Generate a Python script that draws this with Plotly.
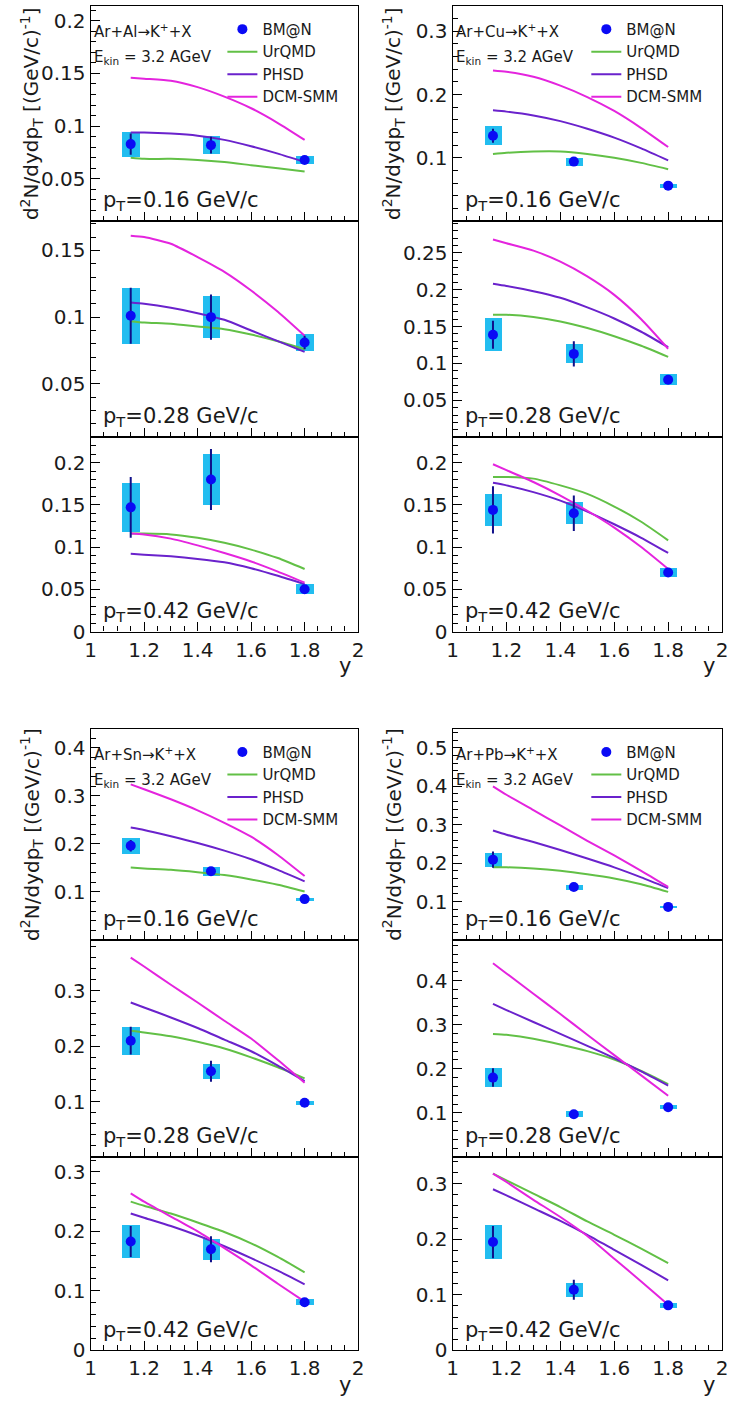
import plotly.graph_objects as go

W, H = 731, 1405

# rapidity bins of the BM@N points and the grid of the model curves
rapidity = [1.15, 1.45, 1.8]
model_y = [1.15, 1.2, 1.3, 1.4, 1.5, 1.6, 1.7, 1.8]
pt_labels = ["0.16", "0.28", "0.42"]
systems = ["Al", "Cu", "Sn", "Pb"]

# --- Ar+Al ---------------------------------------------------------------
al_bmn = [[0.083, 0.082, 0.068], [0.101, 0.100, 0.081], [0.147, 0.180, 0.050]]
al_stat = [[0.010, 0.008, 0.003], [0.021, 0.017, 0.005], [0.036, 0.036, 0.004]]
al_syst = [[0.012, 0.0085, 0.004], [0.021, 0.016, 0.0065], [0.029, 0.030, 0.006]]
al_urqmd = [[0.070, 0.069, 0.069, 0.068, 0.066, 0.063, 0.060, 0.057],
            [0.097, 0.096, 0.095, 0.093, 0.091, 0.087, 0.082, 0.076],
            [0.116, 0.116, 0.115, 0.111, 0.105, 0.097, 0.087, 0.074]]
al_phsd = [[0.094, 0.094, 0.093, 0.091, 0.087, 0.081, 0.074, 0.066],
           [0.111, 0.110, 0.107, 0.103, 0.098, 0.090, 0.082, 0.074],
           [0.092, 0.091, 0.089, 0.086, 0.082, 0.075, 0.066, 0.056]]
al_dcm = [[0.146, 0.145, 0.143, 0.137, 0.128, 0.117, 0.103, 0.087],
          [0.161, 0.160, 0.155, 0.145, 0.134, 0.120, 0.104, 0.086],
          [0.116, 0.115, 0.110, 0.102, 0.093, 0.083, 0.071, 0.058]]

# --- Ar+Cu ---------------------------------------------------------------
cu_bmn = [[0.135, 0.094, 0.056], [0.139, 0.113, 0.078], [0.144, 0.140, 0.070]]
cu_stat = [[0.011, 0.004, 0.003], [0.019, 0.017, 0.004], [0.028, 0.021, 0.004]]
cu_syst = [[0.015, 0.0065, 0.003], [0.022, 0.013, 0.007], [0.019, 0.0135, 0.0055]]
cu_urqmd = [[0.106, 0.108, 0.110, 0.110, 0.106, 0.100, 0.092, 0.082],
            [0.166, 0.166, 0.163, 0.157, 0.148, 0.137, 0.124, 0.109],
            [0.183, 0.183, 0.181, 0.173, 0.163, 0.148, 0.130, 0.108]]
cu_phsd = [[0.175, 0.173, 0.167, 0.158, 0.146, 0.132, 0.115, 0.096],
           [0.208, 0.205, 0.198, 0.189, 0.176, 0.161, 0.143, 0.122],
           [0.176, 0.173, 0.165, 0.155, 0.142, 0.127, 0.111, 0.093]]
cu_dcm = [[0.238, 0.236, 0.228, 0.214, 0.196, 0.174, 0.147, 0.117],
          [0.268, 0.263, 0.253, 0.238, 0.218, 0.193, 0.160, 0.120],
          [0.198, 0.191, 0.177, 0.161, 0.143, 0.123, 0.100, 0.074]]

# --- Ar+Sn ---------------------------------------------------------------
sn_bmn = [[0.196, 0.143, 0.085], [0.210, 0.155, 0.098], [0.183, 0.170, 0.081]]
sn_stat = [[0.012, 0.005, 0.004], [0.025, 0.019, 0.004], [0.026, 0.022, 0.004]]
sn_syst = [[0.017, 0.010, 0.003], [0.025, 0.014, 0.004], [0.027, 0.018, 0.005]]
sn_urqmd = [[0.151, 0.149, 0.146, 0.141, 0.135, 0.126, 0.115, 0.101],
            [0.228, 0.225, 0.218, 0.208, 0.196, 0.180, 0.162, 0.142],
            [0.250, 0.243, 0.230, 0.215, 0.199, 0.180, 0.157, 0.131]]
sn_phsd = [[0.234, 0.229, 0.216, 0.202, 0.186, 0.168, 0.146, 0.122],
           [0.279, 0.270, 0.252, 0.233, 0.212, 0.191, 0.165, 0.137],
           [0.230, 0.223, 0.209, 0.193, 0.175, 0.155, 0.134, 0.111]]
sn_dcm = [[0.324, 0.314, 0.293, 0.270, 0.244, 0.215, 0.177, 0.133],
          [0.360, 0.344, 0.311, 0.279, 0.246, 0.214, 0.175, 0.134],
          [0.264, 0.250, 0.225, 0.200, 0.172, 0.143, 0.112, 0.082]]

# --- Ar+Pb ---------------------------------------------------------------
pb_bmn = [[0.209, 0.138, 0.086], [0.180, 0.097, 0.113], [0.195, 0.109, 0.081]]
pb_stat = [[0.021, 0.004, 0.004], [0.021, 0.008, 0.005], [0.029, 0.018, 0.004]]
pb_syst = [[0.018, 0.007, 0.003], [0.021, 0.007, 0.005], [0.031, 0.013, 0.005]]
pb_urqmd = [[0.189, 0.189, 0.186, 0.180, 0.171, 0.160, 0.145, 0.125],
            [0.279, 0.277, 0.268, 0.255, 0.240, 0.221, 0.195, 0.165],
            [0.318, 0.306, 0.282, 0.258, 0.232, 0.208, 0.183, 0.157]]
pb_phsd = [[0.285, 0.274, 0.255, 0.234, 0.212, 0.189, 0.163, 0.135],
           [0.347, 0.333, 0.306, 0.279, 0.252, 0.224, 0.194, 0.162],
           [0.290, 0.279, 0.256, 0.233, 0.208, 0.181, 0.154, 0.126]]
pb_dcm = [[0.400, 0.378, 0.338, 0.298, 0.258, 0.220, 0.180, 0.138],
          [0.439, 0.416, 0.370, 0.324, 0.277, 0.231, 0.185, 0.139],
          [0.318, 0.303, 0.271, 0.240, 0.206, 0.165, 0.124, 0.082]]

# y-axis ranges and tick labels of every pad
al_yrange = [[0.01, 0.214], [0.01, 0.172], [0.0, 0.23]]
cu_yrange = [[0.0, 0.34], [0.0, 0.293], [0.0, 0.23]]
sn_yrange = [[0.0, 0.44], [0.0, 0.392], [0.0, 0.325]]
pb_yrange = [[0.0, 0.55], [0.0, 0.492], [0.0, 0.348]]
al_yticks = [[0.05, 0.1, 0.15, 0.2], [0.05, 0.1, 0.15], [0, 0.05, 0.1, 0.15, 0.2]]
cu_yticks = [[0.1, 0.2, 0.3], [0.05, 0.1, 0.15, 0.2, 0.25], [0, 0.05, 0.1, 0.15, 0.2]]
sn_yticks = [[0.1, 0.2, 0.3, 0.4], [0.1, 0.2, 0.3], [0, 0.1, 0.2, 0.3]]
pb_yticks = [[0.1, 0.2, 0.3, 0.4, 0.5], [0.1, 0.2, 0.3, 0.4], [0, 0.1, 0.2, 0.3]]
x_ticks = [1, 1.2, 1.4, 1.6, 1.8, 2]

data = {
    "Al": (al_bmn, al_stat, al_syst, al_urqmd, al_phsd, al_dcm, al_yrange, al_yticks),
    "Cu": (cu_bmn, cu_stat, cu_syst, cu_urqmd, cu_phsd, cu_dcm, cu_yrange, cu_yticks),
    "Sn": (sn_bmn, sn_stat, sn_syst, sn_urqmd, sn_phsd, sn_dcm, sn_yrange, sn_yticks),
    "Pb": (pb_bmn, pb_stat, pb_syst, pb_urqmd, pb_phsd, pb_dcm, pb_yrange, pb_yticks),
}

FONT = "DejaVu Sans"
TXT = "#1a1a1a"
C_BOX = "#22bdf0"
C_PT = "#0a0af5"
C_ERR = "#10108a"
C_URQMD = "#62c046"
C_PHSD = "#6a22cc"
C_DCM = "#e424de"

# pad geometry in pixels
col_px = [(86, 358), (454, 728)]
row_px = [[(6, 223), (223, 441), (441, 637)],
          [(735, 948), (948, 1167), (1167, 1362)]]


def fx(px):
    return px / W


def fy(py):
    return 1 - py / H


fig = go.Figure()
layout = {}
annotations = []

for g, sysname in enumerate(systems):
    bmn, stat, syst, urq, phsd, dcm, yr, yt = data[sysname]
    col = g % 2
    grp = g // 2
    x0, x1 = col_px[col]
    legend_id = "legend" if g == 0 else f"legend{g + 1}"
    for k in range(3):
        n = g * 3 + k + 1
        xa = "x" if n == 1 else f"x{n}"
        ya = "y" if n == 1 else f"y{n}"
        top, bot = row_px[grp][k]
        first = k == 0

        # systematic boxes
        fig.add_trace(go.Bar(
            x=rapidity, y=[2 * s for s in syst[k]],
            base=[v - s for v, s in zip(bmn[k], syst[k])],
            width=0.065, marker=dict(color=C_BOX, line=dict(width=0)),
            xaxis=xa, yaxis=ya, showlegend=False, hoverinfo="skip"))
        # model curves
        for name, vals, color, rank in [("UrQMD", urq[k], C_URQMD, 2),
                                        ("PHSD", phsd[k], C_PHSD, 3),
                                        ("DCM-SMM", dcm[k], C_DCM, 4)]:
            fig.add_trace(go.Scatter(
                x=model_y, y=vals, mode="lines", name=name,
                line=dict(color=color, width=2, shape="spline", smoothing=0.6),
                xaxis=xa, yaxis=ya, legend=legend_id, legendrank=rank,
                showlegend=first))
        # BM@N points with statistical errors
        fig.add_trace(go.Scatter(
            x=rapidity, y=bmn[k], mode="markers", name="BM@N",
            marker=dict(color=C_PT, size=10),
            error_y=dict(type="data", array=stat[k], color=C_ERR,
                         thickness=2, width=0),
            xaxis=xa, yaxis=ya, legend=legend_id, legendrank=1,
            showlegend=first))

        bottom_pad = k == 2
        layout[f"xaxis{'' if n == 1 else n}"] = dict(
            domain=[fx(x0), fx(x1)], anchor=ya, range=[1, 2],
            tickvals=x_ticks, showticklabels=bottom_pad,
            ticks="inside", ticklen=9, tickwidth=1, tickcolor="black",
            minor=dict(tickmode="linear", tick0=1, dtick=0.05,
                       ticks="inside", ticklen=5, tickcolor="black"),
            showline=True, linecolor="black", linewidth=1.2, mirror=True,
            showgrid=False, zeroline=False,
            tickfont=dict(family=FONT, size=20, color=TXT))
        major = yt[k][1] - yt[k][0]
        layout[f"yaxis{'' if n == 1 else n}"] = dict(
            domain=[fy(bot), fy(top)], anchor=xa, range=yr[k],
            tickmode="array", tickvals=yt[k],
            ticks="inside", ticklen=9, tickwidth=1, tickcolor="black",
            minor=dict(tickmode="linear", tick0=0, dtick=round(major / 5, 4),
                       ticks="inside", ticklen=5, tickcolor="black"),
            showline=True, linecolor="black", linewidth=1.2, mirror=True,
            showgrid=False, zeroline=False,
            tickfont=dict(family=FONT, size=20, color=TXT))

        annotations.append(dict(
            text=f"p<sub>T</sub>=" + pt_labels[k] + " GeV/c",
            x=fx(x0 + 11), y=fy(bot - 20), xref="paper", yref="paper",
            xanchor="left", yanchor="middle", showarrow=False,
            font=dict(family=FONT, size=21, color=TXT)))

    # reaction and beam energy
    gtop = row_px[grp][0][0]
    annotations.append(dict(
        text=f"Ar+{sysname}\u2192K<sup>+</sup>+X",
        x=fx(x0 + 1), y=fy(gtop + 25), xref="paper", yref="paper",
        xanchor="left", yanchor="middle", showarrow=False,
        font=dict(family=FONT, size=15, color=TXT)))
    annotations.append(dict(
        text="E<sub>kin</sub> = 3.2 AGeV",
        x=fx(x0 + 1), y=fy(gtop + 52), xref="paper", yref="paper",
        xanchor="left", yanchor="middle", showarrow=False,
        font=dict(family=FONT, size=15, color=TXT)))
    # y-axis title
    gbot = row_px[grp][0][1]
    annotations.append(dict(
        text="d<sup>2</sup>N/dydp<sub>T</sub> [(GeV/c)<sup>-1</sup>]",
        x=fx(x0 - 60), y=fy((gtop + gbot) / 2), xref="paper", yref="paper",
        xanchor="center", yanchor="middle", textangle=-90, showarrow=False,
        font=dict(family=FONT, size=20, color=TXT)))
    # x-axis title
    lastbot = row_px[grp][2][1]
    annotations.append(dict(
        text="y", x=fx(x1 - 5), y=fy(lastbot + 35), xref="paper", yref="paper",
        xanchor="right", yanchor="middle", showarrow=False,
        font=dict(family=FONT, size=21, color=TXT)))

    layout[legend_id] = dict(
        x=fx(x1 - 138), y=fy(gtop + 7), xanchor="left", yanchor="top",
        bgcolor="rgba(0,0,0,0)", borderwidth=0, itemwidth=30,
        tracegroupgap=0, font=dict(family=FONT, size=15, color=TXT))

fig.update_layout(
    width=W, height=H, autosize=False,
    margin=dict(l=0, r=0, t=0, b=0),
    paper_bgcolor="white", plot_bgcolor="white",
    showlegend=True, bargap=0,
    annotations=annotations,
    **layout)

fig.write_html("out.html")
